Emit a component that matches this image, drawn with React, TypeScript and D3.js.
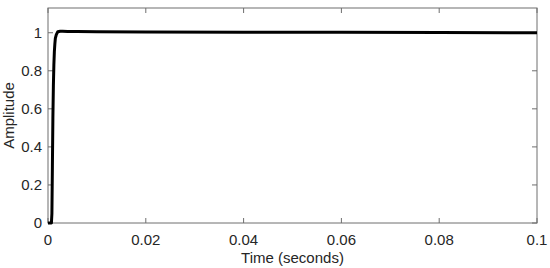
import React, { useRef, useEffect } from "react";
import * as d3 from "d3";

// step response
const time = [0, 0.0007, 0.0008, 0.0009, 0.001, 0.0011, 0.0012, 0.0013, 0.0014, 0.0015, 0.0017, 0.002, 0.0025, 0.003, 0.004, 0.006, 0.01, 0.02, 0.04, 0.06, 0.08, 0.1];
const amplitude = [0, 0, 0.05, 0.3, 0.55, 0.72, 0.83, 0.9, 0.94, 0.97, 0.99, 1.005, 1.008, 1.008, 1.007, 1.006, 1.005, 1.004, 1.003, 1.002, 1.001, 1.0];

const xTicks = [0, 0.02, 0.04, 0.06, 0.08, 0.1];
const yTicks = [0, 0.2, 0.4, 0.6, 0.8, 1];

export default function App() {
  const ref = useRef<SVGSVGElement>(null);

  useEffect(() => {
    const W = 550, H = 268;
    const m = { top: 8, right: 13, bottom: 45, left: 48 };
    const font = "'Liberation Sans', Arial, sans-serif";
    const axisColor = "#6e6e6e";
    const textColor = "#262626";

    const svg = d3.select(ref.current).html("");
    const x = d3.scaleLinear().domain([0, 0.1]).range([m.left, W - m.right]);
    const y = d3.scaleLinear().domain([0, 1.13]).range([H - m.bottom, m.top]);

    const g = svg.append("g");

    // box
    g.append("rect")
      .attr("x", x(0)).attr("y", y(1.13))
      .attr("width", x(0.1) - x(0)).attr("height", y(0) - y(1.13))
      .attr("fill", "none").attr("stroke", axisColor).attr("stroke-width", 1);

    const tl = 5;
    // x ticks (bottom and top, inward)
    xTicks.forEach((t) => {
      g.append("line").attr("x1", x(t)).attr("x2", x(t))
        .attr("y1", y(0)).attr("y2", y(0) - tl).attr("stroke", axisColor);
      g.append("line").attr("x1", x(t)).attr("x2", x(t))
        .attr("y1", y(1.13)).attr("y2", y(1.13) + tl).attr("stroke", axisColor);
      g.append("text").attr("x", x(t)).attr("y", y(0) + 22)
        .attr("text-anchor", "middle").attr("font-family", font)
        .attr("font-size", 15).attr("fill", textColor)
        .text(d3.format("~g")(t));
    });

    // y ticks (left and right, inward)
    yTicks.forEach((v) => {
      g.append("line").attr("x1", x(0)).attr("x2", x(0) + tl)
        .attr("y1", y(v)).attr("y2", y(v)).attr("stroke", axisColor);
      g.append("line").attr("x1", x(0.1)).attr("x2", x(0.1) - tl)
        .attr("y1", y(v)).attr("y2", y(v)).attr("stroke", axisColor);
      g.append("text").attr("x", x(0) - 6).attr("y", y(v) + 5)
        .attr("text-anchor", "end").attr("font-family", font)
        .attr("font-size", 15).attr("fill", textColor)
        .text(d3.format("~g")(v));
    });

    // response curve
    const line = d3.line<number>()
      .x((d, i) => x(time[i]))
      .y((d) => y(d));
    g.append("path")
      .datum(amplitude)
      .attr("d", line)
      .attr("fill", "none")
      .attr("stroke", "#000")
      .attr("stroke-width", 3)
      .attr("stroke-linejoin", "round");

    // axis titles
    svg.append("text")
      .attr("transform", `translate(14, ${(y(0) + y(1.13)) / 2}) rotate(-90)`)
      .attr("text-anchor", "middle").attr("font-family", font)
      .attr("font-size", 15).attr("fill", textColor)
      .text("Amplitude");
    svg.append("text")
      .attr("x", (x(0) + x(0.1)) / 2).attr("y", 263)
      .attr("text-anchor", "middle").attr("font-family", font)
      .attr("font-size", 15).attr("fill", textColor)
      .text("Time (seconds)");
  }, []);

  return (
    <div style={{ position: "absolute", left: 0, top: 0 }}>
      <svg ref={ref} width={550} height={268} style={{ display: "block", background: "#fff" }} />
    </div>
  );
}
